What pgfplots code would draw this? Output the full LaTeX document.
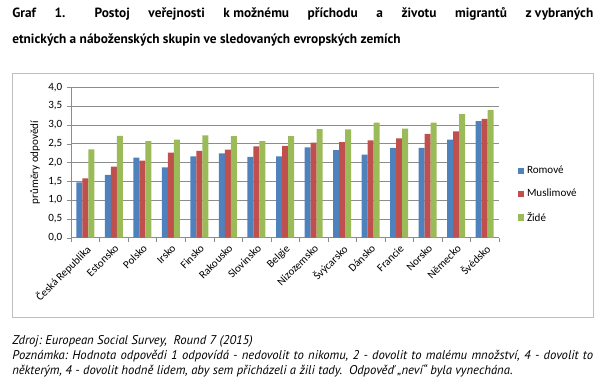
\documentclass[border=0pt]{standalone}
\usepackage{fontspec}
\setmainfont{Carlito}
\newfontfamily\ptsans{PT Sans}
\usepackage{pgfplots}
\pgfplotsset{compat=1.18}
\definecolor{cblue}{HTML}{4F81BD}
\definecolor{cred}{HTML}{C0504D}
\definecolor{cgreen}{HTML}{9BBB59}
\definecolor{gridc}{HTML}{8C8C8C}
\definecolor{framec}{HTML}{BFBFBF}
\frenchspacing
\begin{document}
\begin{tikzpicture}
\useasboundingbox (0,0) rectangle (457.5pt,-291.75pt);
\draw[framec, line width=0.75pt] (9pt,-54.75pt) rectangle (444.75pt,-237.75pt);
\node[anchor=base west, inner sep=0] at (9pt,-12.75pt) {\ptsans\bfseries\fontsize{10pt}{12pt}\selectfont\makebox[435.75pt][s]{Graf 1.\hspace{0.8em} Postoj veřejnosti k\hspace{0.25em}možnému příchodu a životu migrantů z\hspace{0.25em}vybraných}};
\node[anchor=base west, inner sep=0] at (9pt,-32.25pt) {\ptsans\bfseries\fontsize{10pt}{12pt}\selectfont etnických a náboženských skupin ve sledovaných evropských zemích};
\begin{axis}[
  at={(53.25pt,-178.28pt)}, anchor=south west, scale only axis,
  width=321pt, height=112.8pt,
  ybar=0pt, bar width=4.5pt,
  xmin=-0.5, xmax=14.5, ymin=0, ymax=4,
  xtick={0,...,14},
  xticklabels={Česká Republika,Estonsko,Polsko,Irsko,Finsko,Rakousko,Slovinsko,Belgie,Nizozemsko,Švýcarsko,Dánsko,Francie,Norsko,Německo,Švédsko},
  major x tick style={draw=none},
  minor xtick={-0.5,0.5,...,14.5},
  minor x tick style={gridc},
  ytick={0,0.5,...,4},
  y tick style={gridc},
  tick align=outside, major tick length=3pt, minor tick length=3pt,
  ymajorgrids, grid style={gridc, line width=0.6pt},
  axis x line*=bottom, axis y line*=left, axis line style={gridc,-},
  tick label style={font=\fontsize{8.3pt}{9pt}\selectfont},
  /pgf/number format/assume math mode=true,
  yticklabel style={/pgf/number format/.cd, fixed, fixed zerofill, precision=1, use comma},
  xticklabel style={rotate=45, anchor=north east, inner sep=1pt},
  ylabel={průměry odpovědí},
  every axis y label/.style={at={(axis description cs:-0.084,0.5)}, rotate=90, anchor=center, font=\fontsize{8.3pt}{9pt}\selectfont},
  legend style={at={(axis description cs:1,0.287)}, anchor=west, xshift=14pt, draw=none, fill=none,
    font=\fontsize{8.3pt}{9pt}\selectfont, row sep=6pt, inner sep=0pt, cells={anchor=west}},
  legend image code/.code={\fill[#1,draw=none] (0pt,-2.4pt) rectangle (4.8pt,2.4pt);},
]
\addplot[fill=cblue, draw=none] coordinates {(0,1.47) (1,1.67) (2,2.13) (3,1.87) (4,2.16) (5,2.24) (6,2.15) (7,2.16) (8,2.40) (9,2.33) (10,2.21) (11,2.39) (12,2.39) (13,2.61) (14,3.10)};
\addplot[fill=cred, draw=none] coordinates {(0,1.58) (1,1.89) (2,2.05) (3,2.26) (4,2.31) (5,2.34) (6,2.43) (7,2.44) (8,2.53) (9,2.54) (10,2.59) (11,2.64) (12,2.76) (13,2.83) (14,3.16)};
\addplot[fill=cgreen, draw=none] coordinates {(0,2.35) (1,2.71) (2,2.57) (3,2.61) (4,2.72) (5,2.70) (6,2.57) (7,2.70) (8,2.89) (9,2.88) (10,3.06) (11,2.90) (12,3.06) (13,3.29) (14,3.39)};
\legend{Romové,Muslimové,Židé}
\end{axis}
\node[anchor=base west, inner sep=0] at (9pt,-258pt) {\ptsans\itshape\fontsize{9.5pt}{10pt}\selectfont Zdroj: European Social Survey,\ \ Round 7 (2015)};
\node[anchor=base west, inner sep=0] at (9pt,-269.25pt) {\ptsans\itshape\fontsize{9.5pt}{10pt}\selectfont\makebox[435.75pt][s]{Poznámka: Hodnota odpovědi 1 odpovídá - nedovolit to nikomu, 2 - dovolit to malému množství, 4 - dovolit to}};
\node[anchor=base west, inner sep=0] at (9pt,-280.5pt) {\ptsans\itshape\fontsize{9.5pt}{10pt}\selectfont některým, 4 - dovolit hodně lidem, aby sem přicházeli a žili tady.\ \ Odpověď „neví“ byla vynechána.};
\end{tikzpicture}
\end{document}
